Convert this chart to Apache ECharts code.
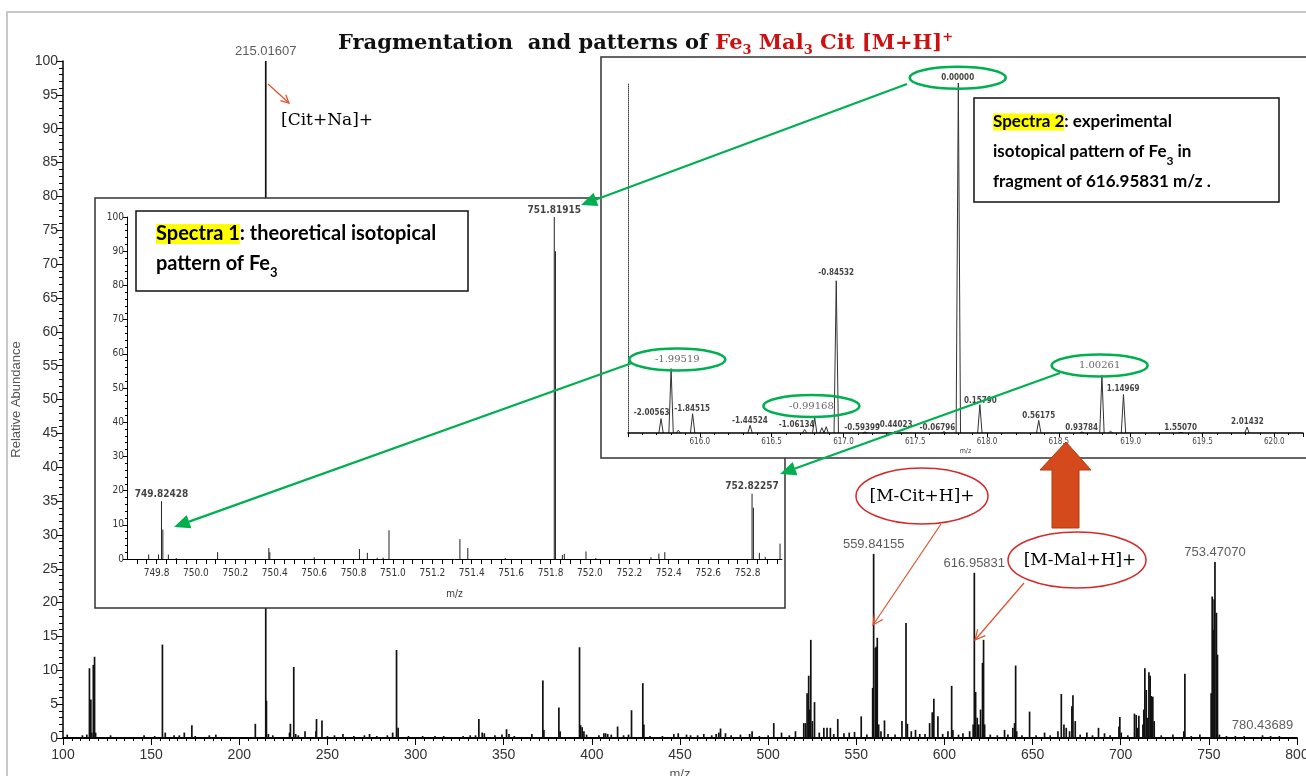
<!DOCTYPE html>
<html><head><meta charset="utf-8">
<script src="https://cdn.jsdelivr.net/npm/echarts@6/dist/echarts.min.js"></script>
<style>html,body{margin:0;padding:0;background:#fff}#c{width:1306px;height:776px}</style>
</head><body><div id="c"></div>
<script>
// ---------- DATA ----------
const mainPeaks = [
 [102.4,0.5],[111,0.4],[113.5,0.5],[115.0,10.3],[115.8,5.7],[116.3,0.8],[117.2,10.8],[117.9,12.0],[118.5,0.8],[127,0.4],[146,0.4],[152,0.3],
 [156.4,13.8],[158,0.8],[163,0.4],[166,0.4],[168.8,0.8],[173.1,1.9],[175,0.3],[183,0.4],[186.7,0.5],[209.1,2.1],[215.016,100],[215.4,5.5],
 [216.5,0.6],[219,0.4],[228.5,0.8],[229,2.1],[230.9,10.5],[232,0.6],[233.5,0.4],[237.3,1.0],[243.5,1.0],[243.8,2.8],[246.9,2.6],[250,0.3],
 [254,0.4],[258.8,0.6],[265,0.3],[271,0.4],[273.9,0.6],[278,0.3],[284,0.4],[287,0.8],[289.2,13.0],[290.1,1.5],[296,0.3],[304,0.3],[311,0.3],
 [316,0.3],[327,0.3],[331,0.4],[334,0.4],[335.9,2.8],[337.8,0.8],[339,0.7],[345,0.4],[349,0.5],[351.6,1.3],[353,0.6],[356,0.3],[366,0.6],
 [372.2,8.5],[372.8,1.2],[381.3,4.5],[382,1.0],[393,13.4],[393.6,1.9],[394.5,1.6],[395.5,1.0],[397,0.5],[404,0.4],[406.8,0.7],[407.8,0.7],
 [409,0.6],[411,0.5],[414.6,1.7],[418,0.4],[420.8,0.5],[422.5,4.1],[428.9,8.1],[429.5,2.0],[433,0.3],[440,0.3],[446.5,0.6],[449,0.7],
 [453.7,0.5],[456,0.4],[460,0.4],[463.5,0.6],[468,0.4],[470.5,0.6],[472,0.8],[473,1.4],[475.8,0.7],[479,0.4],[484.3,0.5],[489.5,0.6],
 [490.9,1.0],[495,0.3],[500,0.4],[503.2,2.2],[507.6,0.8],[512,0.4],[515.5,1.0],[520.2,2.2],[521.2,2.2],[522.1,6.6],[523,9.2],[523.6,4.2],
 [524.2,14.5],[525.1,2.5],[526.3,5.3],[529,0.8],[531.6,1.5],[533.4,1.5],[535.3,1.5],[537.2,0.6],[539.5,2.8],[543,0.7],[546,0.8],[549,0.9],
 [552.8,3.2],[556,0.5],[559.3,7.4],[559.84,27.2],[560.8,13.3],[561.3,13.5],[561.9,14.8],[562.7,2],[564,1.0],[566,2.6],[568,0.6],[572,0.5],
 [575.9,2.5],[578.2,17],[579,2.1],[581.2,1],[583.6,1.2],[586,0.6],[589,0.6],[591.6,2.2],[593.1,3.8],[594,5.8],[596.3,3.2],[599,0.6],[602,1],
 [604.1,7.7],[604.8,1.2],[608,0.5],[610.5,0.7],[614.3,1],[616.3,2],[616.96,24.4],[617.7,6.8],[618.6,3],[619.5,2],[620.5,4.2],[621.6,11.1],
 [622.2,14.5],[622.8,2],[626,0.5],[630,0.4],[634.1,1.2],[636,0.5],[638.8,1.5],[639.8,2.2],[640.4,10.7],[641,1],[644,0.4],[648.3,3.9],
 [652,0.4],[656.8,0.8],[660,0.4],[664.4,1],[666.3,6.5],[667.8,2],[669.1,1.5],[671,1],[672.3,4.7],[672.9,6.3],[674.2,2.5],[677,0.5],
 [680.8,0.8],[684,0.4],[687.4,1.5],[690.8,0.7],[694,0.4],[699,1.7],[699.5,3.1],[700.3,0.8],[704,0.4],[707.8,3.6],[708.8,3.4],[709.7,1.5],
 [710.3,3.3],[712.6,2.0],[713.1,4.2],[713.7,10.3],[714.5,7.1],[715.4,3],[716,9.7],[716.7,9.2],[717.3,6.2],[718.2,6.1],[719,2.5],[723,0.4],
 [729.6,0.5],[735.8,1],[736.4,9.5],[740,0.3],[744.9,0.5],[751.3,6.6],[751.9,20.9],[752.4,16],[753.0,20.5],[753.47,26],[754.3,18.5],
 [754.9,12.3],[756,0.5],[760,0.3],[765,0.3],[770,0.3],[780.44,0.4],[785,0.3],[790,0.3]
];
const mainLabels = [[215.016,100,'215.01607'],[559.84,27.2,'559.84155'],[616.96,24.4,'616.95831'],[753.47,26,'753.47070'],[780.44,0.4,'780.43689']];

const s1Peaks = [
 [749.76,1.3],[749.81,1.3],[749.825,16.9],[749.832,8.6],[749.86,1.3],[749.9,0.3],[750.11,2.0],[750.37,3.2],[750.375,2.0],[750.6,0.5],
 [750.83,2.9],[750.87,1.8],[750.92,0.4],[750.95,0.4],[750.98,8.4],[751.34,5.8],[751.38,3.2],[751.57,0.3],[751.819,100],[751.825,90],
 [751.86,1.2],[751.87,1.5],[751.98,2.2],[752.03,0.3],[752.31,0.5],[752.35,1.6],[752.38,2.0],[752.823,19.1],[752.83,15],[752.86,1.8],
 [752.89,0.6],[752.965,4.5]
];
const s1Labels = [[749.825,16.9,'749.82428'],[751.819,100,'751.81915'],[752.823,19.1,'752.82257']];
const s1XTickLabels = [749.8,750.0,750.2,750.4,750.6,750.8,751.0,751.2,751.4,751.6,751.8,752.0,752.2,752.4,752.6,752.8];

const s2Peaks = [
 [615.73,4.1],[615.80,18.4],[615.85,0.8],[615.95,5.5],[616.35,2.2],[616.73,1.0],[616.80,4.3],[616.85,1.5],[616.88,1.8],[616.95,43.5],
 [617.15,0.3],[617.36,0.5],[617.70,0.4],[617.80,100],[617.95,8.1],[618.36,3.6],[618.66,0.3],[618.80,16.5],[618.86,0.5],[618.95,11],
 [619.35,0.2],[619.81,1.7]
];
const s2Labels = [
 [615.665,5.7,'-2.00563'],[615.843,21.0,'-1.99519'],[615.947,6.8,'-1.84515'],[616.348,3.4,'-1.44524'],[616.674,2.2,'-1.06134'],
 [616.777,7.7,'-0.99168'],[616.95,45.8,'-0.84532'],[617.13,1.5,'-0.59399'],[617.357,2.2,'-0.44023'],[617.655,1.5,'-0.06796'],
 [617.796,101.5,'0.00000'],[617.953,9.3,'0.15790'],[618.36,4.9,'0.56175'],[618.658,1.5,'0.93784'],[618.784,19.3,'1.00261'],
 [618.947,12.5,'1.14969'],[619.348,1.5,'1.55070'],[619.812,3.1,'2.01432']
];
const s2Circled = ['-1.99519','-0.99168','0.00000','1.00261'];
const s2GreyLabels = ['-1.99519','-0.99168','1.00261'];

// ---------- CHART ----------
const NARROW = '"Liberation Sans Narrow","DejaVu Sans Condensed","Liberation Sans",sans-serif';
const SERIF = '"DejaVu Serif","Liberation Serif",serif';
const SANS = '"Liberation Sans",Arial,sans-serif';
const chart = echarts.init(document.getElementById('c'));

function sticks(color, width){
  return function(params, api){
    const x = api.value(0), y = api.value(1);
    const a = api.coord([x,0]), b = api.coord([x,y]);
    return {type:'line', shape:{x1:a[0],y1:a[1],x2:b[0],y2:b[1]}, style:{stroke:color,lineWidth:width}};
  };
}
function peaksTri(color){
  return function(params, api){
    const x = api.value(0), y = api.value(1);
    const a = api.coord([x,0]), b = api.coord([x,y]);
    return {type:'polyline', shape:{points:[[a[0]-2.2,a[1]],[b[0],b[1]],[a[0]+2.2,a[1]]]}, style:{stroke:color,lineWidth:1,fill:null}};
  };
}
const s1TickVals = [];
for (let i = 0; i <= 65; i++) { s1TickVals.push(+(749.70 + i*0.05).toFixed(2)); }

const option = {
  animation:false,
  backgroundColor:'#fff',
  title:{
    left:333, top:26, z:9,
    text:'Fragmentation  and patterns of {r|Fe}{rs|3}{r| Mal}{rs|3}{r| Cit [M+H]}{rp|+}',
    textStyle:{fontFamily:SERIF, fontSize:21, fontWeight:'bold', color:'#111', lineHeight:26,
      rich:{
        r:{fontFamily:SERIF, fontSize:21, fontWeight:'bold', color:'#cc1111', lineHeight:26},
        rs:{fontFamily:SERIF, fontSize:13, fontWeight:'bold', color:'#cc1111', lineHeight:16, verticalAlign:'bottom'},
        rp:{fontFamily:SERIF, fontSize:13, fontWeight:'bold', color:'#cc1111', lineHeight:14, verticalAlign:'top'}
      }}
  },
  grid:[
    {left:63, top:61, width:1234, height:677, outerBoundsMode:'none', containLabel:false},
    {left:127, top:217, width:655, height:342, z:4, outerBoundsMode:'none', containLabel:false},
    {left:628, top:83, width:675, height:350, z:6, outerBoundsMode:'none', containLabel:false}
  ],
  xAxis:[
    {gridIndex:0, type:'value', min:100, max:800, interval:50, name:'m/z', nameLocation:'middle', nameGap:30,
     nameTextStyle:{fontFamily:SANS, fontSize:13, color:'#555'},
     axisLine:{lineStyle:{color:'#000', width:2}}, axisTick:{length:7, lineStyle:{color:'#000'}},
     minorTick:{show:true, splitNumber:10, length:3, lineStyle:{color:'#000'}},
     axisLabel:{fontFamily:SANS, fontSize:14, color:'#333', margin:10}, splitLine:{show:false}},
    {gridIndex:1, type:'value', min:749.65, max:752.975, z:4, name:'m/z', nameLocation:'middle', nameGap:30,
     nameTextStyle:{fontFamily:NARROW, fontSize:10, color:'#333'},
     axisLine:{onZero:false, lineStyle:{color:'#000', width:1}},
     axisTick:{customValues:s1TickVals, length:5, lineStyle:{color:'#000'}},
     axisLabel:{customValues:s1XTickLabels, formatter:v=>(+v).toFixed(1), fontFamily:NARROW, fontSize:10, color:'#333', margin:9},
     splitLine:{show:false}},
    {gridIndex:2, type:'value', min:615.5, max:620.2, interval:0.5, z:6, name:'m/z', nameLocation:'middle', nameGap:15,
     nameTextStyle:{fontFamily:NARROW, fontSize:7, color:'#444'},
     axisLine:{onZero:false, lineStyle:{color:'#000', width:1.5}}, axisTick:{length:4, lineStyle:{color:'#000'}},
     minorTick:{show:true, splitNumber:5, length:2, lineStyle:{color:'#000'}},
     axisLabel:{showMinLabel:false, showMaxLabel:false, formatter:v=>(+v).toFixed(1), fontFamily:NARROW, fontSize:8, color:'#444', margin:5},
     splitLine:{show:false}}
  ],
  yAxis:[
    {gridIndex:0, type:'value', min:0, max:100, interval:5, name:'Relative Abundance', nameLocation:'middle', nameGap:40,
     nameTextStyle:{fontFamily:SANS, fontSize:13, color:'#555'},
     axisLine:{show:true, lineStyle:{color:'#000', width:1.5}}, axisTick:{show:true, length:7, lineStyle:{color:'#000'}},
     minorTick:{show:true, splitNumber:5, length:4, lineStyle:{color:'#000'}},
     axisLabel:{fontFamily:SANS, fontSize:14, color:'#333', margin:5}, splitLine:{show:false}},
    {gridIndex:1, type:'value', min:0, max:100, interval:10, z:4,
     axisLine:{show:true, lineStyle:{color:'#000', width:1}}, axisTick:{show:true, length:4, lineStyle:{color:'#000'}},
     minorTick:{show:true, splitNumber:5, length:2, lineStyle:{color:'#000'}},
     axisLabel:{fontFamily:NARROW, fontSize:10, color:'#333', margin:3}, splitLine:{show:false}},
    {gridIndex:2, type:'value', min:0, max:100, z:6,
     axisLine:{show:true, lineStyle:{color:'#444', width:1, type:'dotted'}}, axisTick:{show:false},
     axisLabel:{show:false}, splitLine:{show:false}}
  ],
  series:[
    {type:'custom', xAxisIndex:0, yAxisIndex:0, z:1, clip:true, renderItem:sticks('#111',1.7), data:mainPeaks},
    {type:'scatter', xAxisIndex:0, yAxisIndex:0, z:1, symbolSize:0, clip:false, data:mainLabels,
     label:{show:true, position:'top', distance:3, formatter:p=>p.value[2], fontFamily:SANS, fontSize:13, color:'#333'}},
    {type:'custom', xAxisIndex:1, yAxisIndex:1, z:4, clip:true, renderItem:sticks('#222',1), data:s1Peaks},
    {type:'scatter', xAxisIndex:1, yAxisIndex:1, z:4, symbolSize:0, clip:false, data:s1Labels,
     label:{show:true, position:'top', distance:2, formatter:p=>p.value[2], fontFamily:NARROW, fontSize:10, fontWeight:'bold', color:'#111'}},
    {type:'custom', xAxisIndex:2, yAxisIndex:2, z:6, clip:false, renderItem:peaksTri('#333'), data:s2Peaks},
    {type:'scatter', xAxisIndex:2, yAxisIndex:2, z:6, symbolSize:0, clip:false,
     data:s2Labels.map(d=>({value:d, label: s2GreyLabels.includes(d[2]) ? {fontSize:10, fontWeight:'normal', color:'#444', fontFamily:SERIF} : {}})),
     label:{show:true, position:'inside', formatter:p=>p.value[2], fontFamily:NARROW, fontSize:8, fontWeight:'bold', color:'#111'}}
  ]
};
chart.setOption(option);

// ---------- ANNOTATIONS ----------
function arrowFilled(x1,y1,x2,y2,color,w,hl,hw,z){
  const dx=x2-x1, dy=y2-y1, L=Math.hypot(dx,dy), ux=dx/L, uy=dy/L, nx=-uy, ny=ux;
  const bx=x2-ux*hl, by=y2-uy*hl;
  return [
    {type:'line', z:z, shape:{x1:x1,y1:y1,x2:bx,y2:by}, style:{stroke:color,lineWidth:w}},
    {type:'polygon', z:z, shape:{points:[[x2,y2],[bx+nx*hw,by+ny*hw],[bx-nx*hw,by-ny*hw]]}, style:{fill:color}}
  ];
}
function arrowOpen(x1,y1,x2,y2,color,w,hl,hw,z){
  const dx=x2-x1, dy=y2-y1, L=Math.hypot(dx,dy), ux=dx/L, uy=dy/L, nx=-uy, ny=ux;
  const bx=x2-ux*hl, by=y2-uy*hl;
  return [
    {type:'line', z:z, shape:{x1:x1,y1:y1,x2:x2,y2:y2}, style:{stroke:color,lineWidth:w}},
    {type:'polyline', z:z, shape:{points:[[bx+nx*hw,by+ny*hw],[x2,y2],[bx-nx*hw,by-ny*hw]]}, style:{stroke:color,lineWidth:w,fill:null}}
  ];
}
const GREEN = '#00b050', RED = '#e0502a', ELL = '#d42a2a';
const els = [];
els.push({type:'rect', z:0, shape:{x:7,y:12,width:1320,height:790}, style:{fill:null, stroke:'#c8c8c8', lineWidth:2}});
els.push({type:'rect', z:3, shape:{x:95,y:198,width:690,height:410}, style:{fill:'#fff', stroke:'#333', lineWidth:1.5}});
els.push({type:'rect', z:5, shape:{x:601,y:57,width:720,height:401}, style:{fill:'#fff', stroke:'#333', lineWidth:1.5}});
// Spectra 1 box
els.push({type:'rect', z:7, shape:{x:136,y:211,width:332,height:80}, style:{fill:'#fff', stroke:'#111', lineWidth:1.5}});
els.push({type:'text', z:7, x:156, y:219, style:{
  text:'{h|Spectra 1}{b|: theoretical isotopical}\n{b|pattern of Fe}{s|3}',
  verticalAlign:'top', textVerticalAlign:'top', align:'left',
  rich:{
    h:{fontFamily:'Lato', fontWeight:'bold', fontSize:20, fill:'#000', backgroundColor:'#ffff00', lineHeight:27},
    b:{fontFamily:'Lato', fontWeight:'bold', fontSize:20, fill:'#000', lineHeight:30},
    s:{fontFamily:'Lato', fontWeight:'bold', fontSize:13, fill:'#000', lineHeight:22, verticalAlign:'bottom'}
  }}});
// Spectra 2 box
els.push({type:'rect', z:7, shape:{x:974,y:98,width:305,height:104}, style:{fill:'#fff', stroke:'#111', lineWidth:1.5}});
els.push({type:'text', z:7, x:993, y:107, style:{
  text:'{h|Spectra 2}{b|: experimental}\n{b|isotopical pattern of Fe}{s|3}{b| in}\n{b|fragment of 616.95831 m/z .}',
  verticalAlign:'top', textVerticalAlign:'top', align:'left',
  rich:{
    h:{fontFamily:'Lato', fontWeight:'bold', fontSize:17, fill:'#000', backgroundColor:'#ffff00', lineHeight:27},
    b:{fontFamily:'Lato', fontWeight:'bold', fontSize:17, fill:'#000', lineHeight:30},
    s:{fontFamily:'Lato', fontWeight:'bold', fontSize:12, fill:'#000', lineHeight:26, verticalAlign:'bottom'}
  }}});
// green ellipses around circled labels
s2Labels.forEach(d=>{
  if (!s2Circled.includes(d[2])) return;
  const p = chart.convertToPixel({xAxisIndex:2, yAxisIndex:2}, [d[0], d[1]]);
  els.push({type:'ellipse', z:8, shape:{cx:p[0], cy:p[1], rx:48, ry:11}, style:{fill:null, stroke:GREEN, lineWidth:2.5}});
});
// green arrows
arrowFilled(907,84,581,205,GREEN,2.2,16,7,8).forEach(e=>els.push(e));
arrowFilled(632,363,174,527,GREEN,2.2,16,7,8).forEach(e=>els.push(e));
arrowFilled(1060,373,780,474,GREEN,2.2,16,7,8).forEach(e=>els.push(e));
// red annotations
els.push({type:'text', z:8, x:281, y:121, style:{text:'[Cit+Na]+', font:'17px '+SERIF, fill:'#000', verticalAlign:'middle', textVerticalAlign:'middle'}});
arrowOpen(268,84,289,103,RED,1.2,8,4,8).forEach(e=>els.push(e));
els.push({type:'ellipse', z:8, shape:{cx:922, cy:496, rx:66, ry:28}, style:{fill:'#fff', stroke:ELL, lineWidth:1.5}});
els.push({type:'text', z:8, x:922, y:497, style:{text:'[M-Cit+H]+', font:'17px '+SERIF, fill:'#000', align:'center', textAlign:'center', verticalAlign:'middle', textVerticalAlign:'middle'}});
els.push({type:'ellipse', z:8, shape:{cx:1077, cy:560, rx:69, ry:28}, style:{fill:'#fff', stroke:ELL, lineWidth:1.5}});
els.push({type:'text', z:8, x:1080, y:561, style:{text:'[M-Mal+H]+', font:'17px '+SERIF, fill:'#000', align:'center', textAlign:'center', verticalAlign:'middle', textVerticalAlign:'middle'}});
arrowOpen(941,524,873,625,RED,1.2,10,5,8).forEach(e=>els.push(e));
arrowOpen(1024,583,975,640,RED,1.2,10,5,8).forEach(e=>els.push(e));
// big block arrow
els.push({type:'polygon', z:8, shape:{points:[[1052,528],[1052,470],[1040,470],[1066,442],[1091,470],[1079,470],[1079,528]]},
  style:{fill:'#d44a1c', stroke:'#b13a12', lineWidth:1}});

chart.setOption({graphic:{elements:els}});
</script></body></html>
